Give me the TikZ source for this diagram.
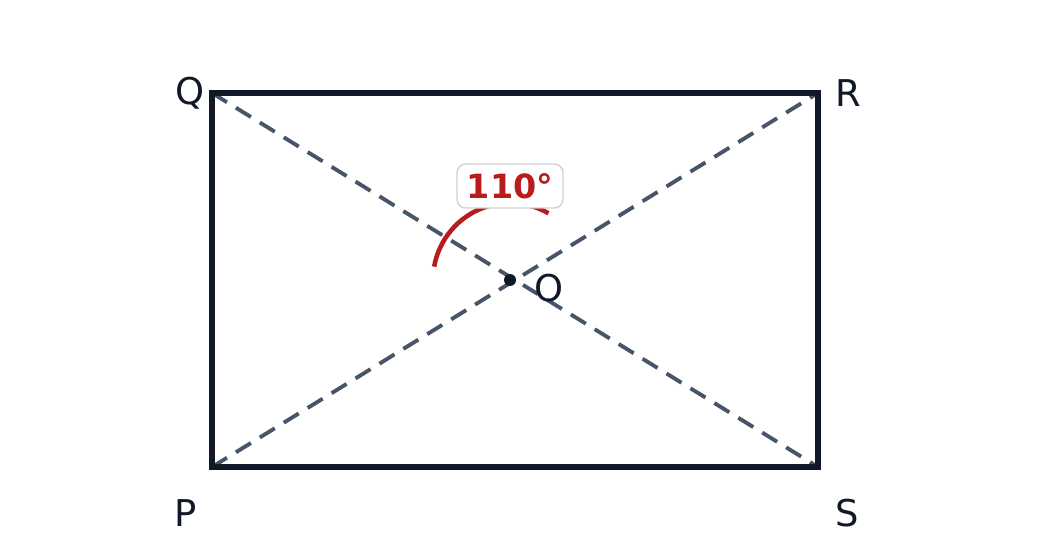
\documentclass[tikz,border=0pt]{standalone}
\usepackage{fontspec}
\setmainfont{DejaVu Sans}
\usetikzlibrary{calc}
\begin{document}
\begin{tikzpicture}[x=0.02cm,y=-0.02cm]
        \definecolor{rectcol}{HTML}{111827}
        \definecolor{diagcol}{HTML}{475569}
        \definecolor{anglecol}{HTML}{B91C1C}
        \tikzset{
        pt label/.style={font=\fontsize{21}{25}\selectfont,text=rectcol,inner sep=0},
        rect edge/.style={draw=rectcol,line width=3pt},
        diag edge/.style={draw=diagcol,line width=2.2pt,dash pattern=on 10pt off 6pt},
        angle box/.style={draw=black!18,fill=white,rounded corners=5pt,line width=0.8pt,minimum width=106*0.02cm,minimum height=44*0.02cm,inner sep=0,text=anglecol,font=\bfseries\fontsize{19}{23}\selectfont}
        }
        \useasboundingbox (0,0) rectangle (1040,560);
        \coordinate (P) at (212,467);
        \coordinate (Q) at (212,93);
        \coordinate (R) at (818,93);
        \coordinate (S) at (818,467);
        \coordinate (O) at (510,280);

        \path[diag edge] (Q) -- (S);
        \path[diag edge] (P) -- (R);
        \path[rect edge] (P) -- (Q) -- (R) -- (S) -- cycle;

        \draw[anglecol,line width=2.6pt] ($(O)+(-170:77)$) arc[start angle=-170,end angle=-60,radius=77];
        \fill[rectcol] (O) circle (6);
        \node[angle box] (ang) at (510,186) {110°};

        \node[pt label] (lQ) at (190,93) {Q};
        \node[pt label] (lR) at (848,93) {R};
        \node[pt label] (lP) at (186,513) {P};
        \node[pt label] (lS) at (847,513) {S};
        \node[pt label] (lO) at (549,288) {O};
\end{tikzpicture}
\end{document}
